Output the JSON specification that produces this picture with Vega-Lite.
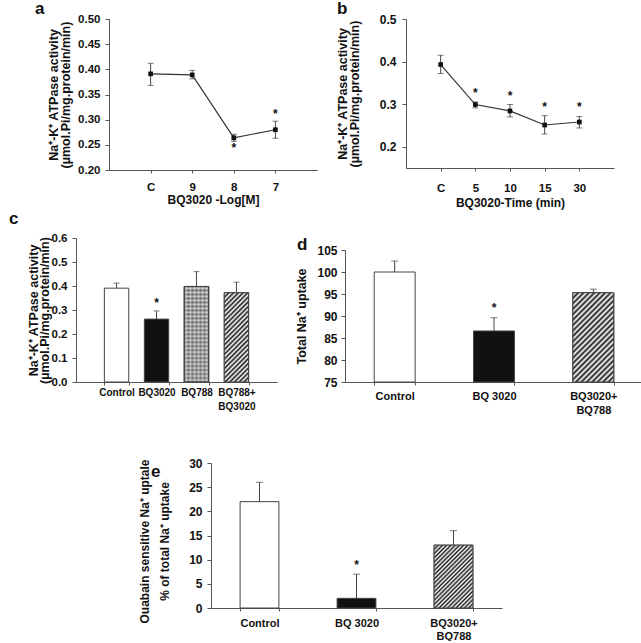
{
  "$schema": "https://vega.github.io/schema/vega-lite/v6.json",
  "padding": 0,
  "autosize": {"type": "pad"},
  "bounds": "flush",
  "spacing": 0,
  "config": {
    "view": {"stroke": null},
    "font": "Liberation Sans",
    "axis": {"grid": false, "labelOverlap": false, "labelFont": "Liberation Sans", "labelFontSize": 11, "labelFontWeight": "bold", "labelColor": "#111", "titleFont": "Liberation Sans", "titleFontSize": 12, "titleFontWeight": "bold", "titleColor": "#111", "domainColor": "#555", "tickColor": "#555", "tickSize": 3},
    "title": {"font": "Liberation Sans", "fontSize": 17, "fontWeight": "bold", "anchor": "start", "frame": "group", "color": "#111"}
  },
  "vconcat": [
    {"width": 1, "height": 16, "data": {"values": [{"s": 0}]}, "mark": {"type": "point", "opacity": 0}},
    {
      "spacing": 0, "bounds": "flush",
      "hconcat": [
        {"width": 106, "height": 1, "data": {"values": [{"s": 0}]}, "mark": {"type": "point", "opacity": 0}},
        {
          "title": {"text": "a", "dx": -74, "dy": 9},
          "width": 208, "height": 151,
          "data": {"values": [
            {"dose": "C", "v": 0.391, "lo": 0.368, "hi": 0.412, "star": "none"},
            {"dose": "9", "v": 0.389, "lo": 0.381, "hi": 0.398, "star": "none"},
            {"dose": "8", "v": 0.264, "lo": 0.257, "hi": 0.271, "star": "below"},
            {"dose": "7", "v": 0.280, "lo": 0.263, "hi": 0.297, "star": "above"}
          ]},
          "encoding": {"x": {"field": "dose", "type": "ordinal", "sort": null, "scale": {"type": "point", "padding": 1}, "axis": {"title": "BQ3020 -Log[M]", "labelAngle": 0, "labelFontSize": 11.5, "labelPadding": 8, "titlePadding": 2}}},
          "layer": [
            {"mark": {"type": "line", "color": "#333", "strokeWidth": 1.2}, "encoding": {"y": {"field": "v", "type": "quantitative", "scale": {"domain": [0.2, 0.5], "nice": false, "zero": false}, "axis": {"title": ["Na⁺-K⁺ ATPase activity", "(µmol.Pi/mg.protein/min)"], "tickCount": 7, "values": [0.2, 0.25, 0.3, 0.35, 0.4, 0.45, 0.5], "labelOverlap": false, "format": ".2f", "labelFontSize": 11.5, "titleFontSize": 12.5, "tickSize": 4, "labelPadding": 5, "titlePadding": 5, "titleLineHeight": 12}}}},
            {"mark": {"type": "rule", "color": "#444", "strokeWidth": 1}, "encoding": {"y": {"field": "lo", "type": "quantitative"}, "y2": {"field": "hi"}}},
            {"mark": {"type": "tick", "color": "#444", "size": 6, "thickness": 1}, "encoding": {"y": {"field": "hi", "type": "quantitative"}}},
            {"mark": {"type": "tick", "color": "#444", "size": 6, "thickness": 1}, "encoding": {"y": {"field": "lo", "type": "quantitative"}}},
            {"mark": {"type": "point", "shape": "square", "filled": true, "size": 22, "color": "#111", "opacity": 1}, "encoding": {"y": {"field": "v", "type": "quantitative"}}},
            {"transform": [{"filter": "datum.star == 'above'"}], "mark": {"type": "text", "text": "*", "dy": -7, "fontSize": 12, "fontWeight": "bold", "baseline": "middle", "color": "#111"}, "encoding": {"y": {"field": "hi", "type": "quantitative"}}},
            {"transform": [{"filter": "datum.star == 'below'"}], "mark": {"type": "text", "text": "*", "dy": 7, "fontSize": 12, "fontWeight": "bold", "baseline": "middle", "color": "#111"}, "encoding": {"y": {"field": "lo", "type": "quantitative"}}}
          ]
        },
        {"width": 89, "height": 1, "data": {"values": [{"s": 0}]}, "mark": {"type": "point", "opacity": 0}},
        {
          "title": {"text": "b", "dx": -69, "dy": 9},
          "width": 208, "height": 149,
          "data": {"values": [
            {"time": "C", "v": 0.393, "lo": 0.372, "hi": 0.415, "star": "none"},
            {"time": "5", "v": 0.299, "lo": 0.291, "hi": 0.305, "star": "above"},
            {"time": "10", "v": 0.284, "lo": 0.270, "hi": 0.299, "star": "above"},
            {"time": "15", "v": 0.251, "lo": 0.230, "hi": 0.273, "star": "above"},
            {"time": "30", "v": 0.258, "lo": 0.244, "hi": 0.271, "star": "above"}
          ]},
          "encoding": {"x": {"field": "time", "type": "ordinal", "sort": null, "scale": {"type": "point", "padding": 1}, "axis": {"title": "BQ3020-Time (min)", "labelAngle": 0, "labelFontSize": 11.5, "labelPadding": 11, "titlePadding": 4}}},
          "layer": [
            {"mark": {"type": "line", "color": "#333", "strokeWidth": 1.2}, "encoding": {"y": {"field": "v", "type": "quantitative", "scale": {"domain": [0.15, 0.5], "nice": false, "zero": false}, "axis": {"title": ["Na⁺-K⁺ ATPase activity", "(µmol.Pi/mg.protein/min)"], "tickCount": 4, "values": [0.2, 0.3, 0.4, 0.5], "labelOverlap": false, "format": ".1f", "labelFontSize": 12, "titleFontSize": 12.5, "tickSize": 4, "labelPadding": 6, "titlePadding": 18, "titleLineHeight": 12}}}},
            {"mark": {"type": "rule", "color": "#444", "strokeWidth": 1}, "encoding": {"y": {"field": "lo", "type": "quantitative"}, "y2": {"field": "hi"}}},
            {"mark": {"type": "tick", "color": "#444", "size": 6, "thickness": 1}, "encoding": {"y": {"field": "hi", "type": "quantitative"}}},
            {"mark": {"type": "tick", "color": "#444", "size": 6, "thickness": 1}, "encoding": {"y": {"field": "lo", "type": "quantitative"}}},
            {"mark": {"type": "point", "shape": "square", "filled": true, "size": 22, "color": "#111", "opacity": 1}, "encoding": {"y": {"field": "v", "type": "quantitative"}}},
            {"transform": [{"filter": "datum.star == 'above'"}], "mark": {"type": "text", "text": "*", "dy": -9, "fontSize": 12, "fontWeight": "bold", "baseline": "middle", "color": "#111"}, "encoding": {"y": {"field": "hi", "type": "quantitative"}}}
          ]
        }
      ]
    },
    {"width": 1, "height": 219, "data": {"values": [{"s": 0}]}, "mark": {"type": "point", "opacity": 0}},
    {
      "spacing": 0, "bounds": "flush",
      "hconcat": [
        {"width": 73, "height": 1, "data": {"values": [{"s": 0}]}, "mark": {"type": "point", "opacity": 0}},
        {
          "title": {"text": "c", "dx": -67, "dy": 0},
          "width": 201, "height": 144,
          "data": {"values": [
            {"g": "Control", "kind": "Control", "v": 0.391, "hi": 0.412, "star": "none"},
            {"g": "BQ3020", "kind": "BQ3020", "v": 0.262, "hi": 0.296, "star": "above"},
            {"g": "BQ788", "kind": "BQ788", "v": 0.398, "hi": 0.460, "star": "none"},
            {"g": "BQ788+BQ3020", "kind": "Combination", "v": 0.372, "hi": 0.416, "star": "none"}
          ]},
          "encoding": {"x": {"field": "g", "type": "nominal", "sort": null, "scale": {"paddingInner": 0.39, "paddingOuter": 0.71}, "axis": {"title": null, "labelAngle": 0, "labelFontSize": 10, "labelExpr": "split(replace(datum.label, '+', '+|'), '|')", "labelLineHeight": 14, "labelPadding": 2, "tickBand": "extent"}}},
          "layer": [
            {"mark": {"type": "rule", "color": "#444", "strokeWidth": 1}, "encoding": {"y": {"field": "v", "type": "quantitative", "scale": {"domain": [0, 0.6], "nice": false}, "axis": {"title": ["Na⁺-K⁺ ATPase activity", "(µmol.Pi/mg.protein/min)"], "tickCount": 7, "values": [0, 0.1, 0.2, 0.3, 0.4, 0.5, 0.6], "labelOverlap": false, "format": ".1f", "labelFontSize": 11.5, "titleFontSize": 12.5, "tickSize": 4, "labelPadding": 5, "titlePadding": 0, "titleLineHeight": 11}}, "y2": {"field": "hi"}}},
            {"mark": {"type": "bar", "stroke": "#444", "strokeWidth": 1}, "encoding": {"y": {"field": "v", "type": "quantitative"}, "fill": {"field": "kind", "type": "nominal", "scale": {"domain": ["Control", "BQ3020", "BQ788", "Combination"], "range": ["#ffffff", "#111111", "#9a9a9a", "#8f8f8f"]}, "legend": null}}},
            {"transform": [{"filter": "datum.kind == 'BQ788'"}], "mark": {"type": "bar", "stroke": "#444", "strokeWidth": 1, "fill": {"gradient": "linear", "x1": 0, "y1": 0, "x2": 0, "y2": 1, "stops": [
              {"offset": 0, "color": "#5a5a5a"}, {"offset": 0.0208, "color": "#b4b4b4"}, {"offset": 0.0417, "color": "#5a5a5a"}, {"offset": 0.0625, "color": "#b4b4b4"}, {"offset": 0.0833, "color": "#5a5a5a"}, {"offset": 0.1042, "color": "#b4b4b4"}, {"offset": 0.125, "color": "#5a5a5a"}, {"offset": 0.1458, "color": "#b4b4b4"}, {"offset": 0.1667, "color": "#5a5a5a"}, {"offset": 0.1875, "color": "#b4b4b4"}, {"offset": 0.2083, "color": "#5a5a5a"}, {"offset": 0.2292, "color": "#b4b4b4"}, {"offset": 0.25, "color": "#5a5a5a"}, {"offset": 0.2708, "color": "#b4b4b4"}, {"offset": 0.2917, "color": "#5a5a5a"}, {"offset": 0.3125, "color": "#b4b4b4"}, {"offset": 0.3333, "color": "#5a5a5a"}, {"offset": 0.3542, "color": "#b4b4b4"}, {"offset": 0.375, "color": "#5a5a5a"}, {"offset": 0.3958, "color": "#b4b4b4"}, {"offset": 0.4167, "color": "#5a5a5a"}, {"offset": 0.4375, "color": "#b4b4b4"}, {"offset": 0.4583, "color": "#5a5a5a"}, {"offset": 0.4792, "color": "#b4b4b4"}, {"offset": 0.5, "color": "#5a5a5a"}, {"offset": 0.5208, "color": "#b4b4b4"}, {"offset": 0.5417, "color": "#5a5a5a"}, {"offset": 0.5625, "color": "#b4b4b4"}, {"offset": 0.5833, "color": "#5a5a5a"}, {"offset": 0.6042, "color": "#b4b4b4"}, {"offset": 0.625, "color": "#5a5a5a"}, {"offset": 0.6458, "color": "#b4b4b4"}, {"offset": 0.6667, "color": "#5a5a5a"}, {"offset": 0.6875, "color": "#b4b4b4"}, {"offset": 0.7083, "color": "#5a5a5a"}, {"offset": 0.7292, "color": "#b4b4b4"}, {"offset": 0.75, "color": "#5a5a5a"}, {"offset": 0.7708, "color": "#b4b4b4"}, {"offset": 0.7917, "color": "#5a5a5a"}, {"offset": 0.8125, "color": "#b4b4b4"}, {"offset": 0.8333, "color": "#5a5a5a"}, {"offset": 0.8542, "color": "#b4b4b4"}, {"offset": 0.875, "color": "#5a5a5a"}, {"offset": 0.8958, "color": "#b4b4b4"}, {"offset": 0.9167, "color": "#5a5a5a"}, {"offset": 0.9375, "color": "#b4b4b4"}, {"offset": 0.9583, "color": "#5a5a5a"}, {"offset": 0.9792, "color": "#b4b4b4"}, {"offset": 1, "color": "#5a5a5a"}
            ]}}, "encoding": {"y": {"field": "v", "type": "quantitative"}}},
            {"transform": [{"filter": "datum.kind == 'BQ788'"}], "mark": {"type": "bar", "stroke": "#444", "strokeWidth": 1, "fill": {"gradient": "linear", "x1": 0, "y1": 0, "x2": 1, "y2": 0, "stops": [
              {"offset": 0, "color": "rgba(255,255,255,0)"}, {"offset": 0.0833, "color": "rgba(255,255,255,0.4)"}, {"offset": 0.1667, "color": "rgba(255,255,255,0)"}, {"offset": 0.25, "color": "rgba(255,255,255,0.4)"}, {"offset": 0.3333, "color": "rgba(255,255,255,0)"}, {"offset": 0.4167, "color": "rgba(255,255,255,0.4)"}, {"offset": 0.5, "color": "rgba(255,255,255,0)"}, {"offset": 0.5833, "color": "rgba(255,255,255,0.4)"}, {"offset": 0.6667, "color": "rgba(255,255,255,0)"}, {"offset": 0.75, "color": "rgba(255,255,255,0.4)"}, {"offset": 0.8333, "color": "rgba(255,255,255,0)"}, {"offset": 0.9167, "color": "rgba(255,255,255,0.4)"}, {"offset": 1, "color": "rgba(255,255,255,0)"}
            ]}}, "encoding": {"y": {"field": "v", "type": "quantitative"}}},
            {"transform": [{"filter": "datum.kind == 'Combination'"}], "mark": {"type": "bar", "stroke": "#444", "strokeWidth": 1, "fill": {"gradient": "linear", "x1": 0, "y1": 0, "x2": 0.326, "y2": 1.186, "stops": [
              {"offset": 0, "color": "#1a1a1a"}, {"offset": 0.0208, "color": "#ffffff"}, {"offset": 0.0417, "color": "#1a1a1a"}, {"offset": 0.0625, "color": "#ffffff"}, {"offset": 0.0833, "color": "#1a1a1a"}, {"offset": 0.1042, "color": "#ffffff"}, {"offset": 0.125, "color": "#1a1a1a"}, {"offset": 0.1458, "color": "#ffffff"}, {"offset": 0.1667, "color": "#1a1a1a"}, {"offset": 0.1875, "color": "#ffffff"}, {"offset": 0.2083, "color": "#1a1a1a"}, {"offset": 0.2292, "color": "#ffffff"}, {"offset": 0.25, "color": "#1a1a1a"}, {"offset": 0.2708, "color": "#ffffff"}, {"offset": 0.2917, "color": "#1a1a1a"}, {"offset": 0.3125, "color": "#ffffff"}, {"offset": 0.3333, "color": "#1a1a1a"}, {"offset": 0.3542, "color": "#ffffff"}, {"offset": 0.375, "color": "#1a1a1a"}, {"offset": 0.3958, "color": "#ffffff"}, {"offset": 0.4167, "color": "#1a1a1a"}, {"offset": 0.4375, "color": "#ffffff"}, {"offset": 0.4583, "color": "#1a1a1a"}, {"offset": 0.4792, "color": "#ffffff"}, {"offset": 0.5, "color": "#1a1a1a"}, {"offset": 0.5208, "color": "#ffffff"}, {"offset": 0.5417, "color": "#1a1a1a"}, {"offset": 0.5625, "color": "#ffffff"}, {"offset": 0.5833, "color": "#1a1a1a"}, {"offset": 0.6042, "color": "#ffffff"}, {"offset": 0.625, "color": "#1a1a1a"}, {"offset": 0.6458, "color": "#ffffff"}, {"offset": 0.6667, "color": "#1a1a1a"}, {"offset": 0.6875, "color": "#ffffff"}, {"offset": 0.7083, "color": "#1a1a1a"}, {"offset": 0.7292, "color": "#ffffff"}, {"offset": 0.75, "color": "#1a1a1a"}, {"offset": 0.7708, "color": "#ffffff"}, {"offset": 0.7917, "color": "#1a1a1a"}, {"offset": 0.8125, "color": "#ffffff"}, {"offset": 0.8333, "color": "#1a1a1a"}, {"offset": 0.8542, "color": "#ffffff"}, {"offset": 0.875, "color": "#1a1a1a"}, {"offset": 0.8958, "color": "#ffffff"}, {"offset": 0.9167, "color": "#1a1a1a"}, {"offset": 0.9375, "color": "#ffffff"}, {"offset": 0.9583, "color": "#1a1a1a"}, {"offset": 0.9792, "color": "#ffffff"}, {"offset": 1, "color": "#1a1a1a"}
            ]}}, "encoding": {"y": {"field": "v", "type": "quantitative"}}},
            {"mark": {"type": "tick", "color": "#444", "size": 6, "thickness": 1}, "encoding": {"y": {"field": "hi", "type": "quantitative"}}},
            {"transform": [{"filter": "datum.star == 'above'"}], "mark": {"type": "text", "text": "*", "dy": -8, "fontSize": 12, "fontWeight": "bold", "baseline": "middle", "color": "#111"}, "encoding": {"y": {"field": "hi", "type": "quantitative"}}}
          ]
        },
        {"width": 68, "height": 1, "data": {"values": [{"s": 0}]}, "mark": {"type": "point", "opacity": 0}},
        {
          "spacing": 0, "bounds": "flush",
          "vconcat": [
            {"width": 1, "height": 12, "data": {"values": [{"s": 0}]}, "mark": {"type": "point", "opacity": 0}},
            {
              "title": {"text": "d", "dx": -48, "dy": 14},
              "width": 298, "height": 132,
              "data": {"values": [
                {"g": "Control", "kind": "Control", "v": 100.0, "hi": 102.5, "star": "none"},
                {"g": "BQ 3020", "kind": "BQ3020", "v": 86.6, "hi": 89.6, "star": "above"},
                {"g": "BQ3020+BQ788", "kind": "Combination", "v": 95.3, "hi": 96.1, "star": "none"}
              ]},
              "encoding": {"x": {"field": "g", "type": "nominal", "sort": null, "scale": {"paddingInner": 0.588, "paddingOuter": 0.294}, "axis": {"title": null, "labelAngle": 0, "labelExpr": "split(replace(datum.label, '+', '+|'), '|')", "labelLineHeight": 14, "labelPadding": 5, "tickBand": "extent"}}},
              "layer": [
                {"mark": {"type": "rule", "color": "#444", "strokeWidth": 1}, "encoding": {"y": {"field": "v", "type": "quantitative", "scale": {"domain": [75, 105], "nice": false, "zero": false}, "axis": {"title": "Total  Na⁺ uptake", "tickCount": 7, "values": [75, 80, 85, 90, 95, 100, 105], "labelOverlap": false, "labelFontSize": 12, "titleFontSize": 12.5, "tickSize": 4, "labelPadding": 4, "titlePadding": 8}}, "y2": {"field": "hi"}}},
                {"mark": {"type": "bar", "stroke": "#444", "strokeWidth": 1}, "encoding": {"y": {"field": "v", "type": "quantitative"}, "y2": {"datum": 75}, "fill": {"field": "kind", "type": "nominal", "scale": {"domain": ["Control", "BQ3020", "BQ788", "Combination"], "range": ["#ffffff", "#111111", "#9a9a9a", "#8f8f8f"]}, "legend": null}}},
                {"transform": [{"filter": "datum.kind == 'Combination'"}], "mark": {"type": "bar", "stroke": "#444", "strokeWidth": 1, "fill": {"gradient": "linear", "x1": 0, "y1": 0, "x2": 0.555, "y2": 1.205, "stops": [
                  {"offset": 0, "color": "#1a1a1a"}, {"offset": 0.0208, "color": "#ffffff"}, {"offset": 0.0417, "color": "#1a1a1a"}, {"offset": 0.0625, "color": "#ffffff"}, {"offset": 0.0833, "color": "#1a1a1a"}, {"offset": 0.1042, "color": "#ffffff"}, {"offset": 0.125, "color": "#1a1a1a"}, {"offset": 0.1458, "color": "#ffffff"}, {"offset": 0.1667, "color": "#1a1a1a"}, {"offset": 0.1875, "color": "#ffffff"}, {"offset": 0.2083, "color": "#1a1a1a"}, {"offset": 0.2292, "color": "#ffffff"}, {"offset": 0.25, "color": "#1a1a1a"}, {"offset": 0.2708, "color": "#ffffff"}, {"offset": 0.2917, "color": "#1a1a1a"}, {"offset": 0.3125, "color": "#ffffff"}, {"offset": 0.3333, "color": "#1a1a1a"}, {"offset": 0.3542, "color": "#ffffff"}, {"offset": 0.375, "color": "#1a1a1a"}, {"offset": 0.3958, "color": "#ffffff"}, {"offset": 0.4167, "color": "#1a1a1a"}, {"offset": 0.4375, "color": "#ffffff"}, {"offset": 0.4583, "color": "#1a1a1a"}, {"offset": 0.4792, "color": "#ffffff"}, {"offset": 0.5, "color": "#1a1a1a"}, {"offset": 0.5208, "color": "#ffffff"}, {"offset": 0.5417, "color": "#1a1a1a"}, {"offset": 0.5625, "color": "#ffffff"}, {"offset": 0.5833, "color": "#1a1a1a"}, {"offset": 0.6042, "color": "#ffffff"}, {"offset": 0.625, "color": "#1a1a1a"}, {"offset": 0.6458, "color": "#ffffff"}, {"offset": 0.6667, "color": "#1a1a1a"}, {"offset": 0.6875, "color": "#ffffff"}, {"offset": 0.7083, "color": "#1a1a1a"}, {"offset": 0.7292, "color": "#ffffff"}, {"offset": 0.75, "color": "#1a1a1a"}, {"offset": 0.7708, "color": "#ffffff"}, {"offset": 0.7917, "color": "#1a1a1a"}, {"offset": 0.8125, "color": "#ffffff"}, {"offset": 0.8333, "color": "#1a1a1a"}, {"offset": 0.8542, "color": "#ffffff"}, {"offset": 0.875, "color": "#1a1a1a"}, {"offset": 0.8958, "color": "#ffffff"}, {"offset": 0.9167, "color": "#1a1a1a"}, {"offset": 0.9375, "color": "#ffffff"}, {"offset": 0.9583, "color": "#1a1a1a"}, {"offset": 0.9792, "color": "#ffffff"}, {"offset": 1, "color": "#1a1a1a"}
                ]}}, "encoding": {"y": {"field": "v", "type": "quantitative"}, "y2": {"datum": 75}}},
                {"mark": {"type": "tick", "color": "#444", "size": 7, "thickness": 1}, "encoding": {"y": {"field": "hi", "type": "quantitative"}}},
                {"transform": [{"filter": "datum.star == 'above'"}], "mark": {"type": "text", "text": "*", "dy": -10, "fontSize": 12, "fontWeight": "bold", "baseline": "middle", "color": "#111"}, "encoding": {"y": {"field": "hi", "type": "quantitative"}}}
              ]
            }
          ]
        }
      ]
    },
    {"width": 1, "height": 225, "data": {"values": [{"s": 0}]}, "mark": {"type": "point", "opacity": 0}},
    {
      "spacing": 0, "bounds": "flush",
      "hconcat": [
        {"width": 208, "height": 1, "data": {"values": [{"s": 0}]}, "mark": {"type": "point", "opacity": 0}},
        {
          "title": {"text": "e", "dx": -60, "dy": 28},
          "width": 291, "height": 145,
          "data": {"values": [
            {"g": "Control", "kind": "Control", "v": 22, "hi": 26, "star": "none"},
            {"g": "BQ 3020", "kind": "BQ3020", "v": 2, "hi": 7, "star": "above"},
            {"g": "BQ3020+BQ788", "kind": "Combination", "v": 13, "hi": 16, "star": "none"}
          ]},
          "encoding": {"x": {"field": "g", "type": "nominal", "sort": null, "scale": {"paddingInner": 0.6, "paddingOuter": 0.3}, "axis": {"title": null, "labelAngle": 0, "labelExpr": "split(replace(datum.label, '+', '+|'), '|')", "labelLineHeight": 13, "labelPadding": 6, "tickBand": "extent"}}},
          "layer": [
            {"mark": {"type": "rule", "color": "#444", "strokeWidth": 1}, "encoding": {"y": {"field": "v", "type": "quantitative", "scale": {"domain": [0, 30], "nice": false}, "axis": {"title": ["Ouabain sensitive Na⁺ uptale", "% of  total Na⁺ uptake"], "tickCount": 7, "values": [0, 5, 10, 15, 20, 25, 30], "labelOverlap": false, "labelFontSize": 12, "tickSize": 4, "labelPadding": 5, "titlePadding": 17, "titleLineHeight": 20, "titleY": 78}}, "y2": {"field": "hi"}}},
            {"mark": {"type": "bar", "stroke": "#444", "strokeWidth": 1}, "encoding": {"y": {"field": "v", "type": "quantitative"}, "fill": {"field": "kind", "type": "nominal", "scale": {"domain": ["Control", "BQ3020", "BQ788", "Combination"], "range": ["#ffffff", "#111111", "#9a9a9a", "#8f8f8f"]}, "legend": null}}},
            {"transform": [{"filter": "datum.kind == 'Combination'"}], "mark": {"type": "bar", "stroke": "#444", "strokeWidth": 1, "fill": {"gradient": "linear", "x1": 0, "y1": 0, "x2": 0.724, "y2": 1.171, "stops": [
              {"offset": 0, "color": "#1a1a1a"}, {"offset": 0.0208, "color": "#ffffff"}, {"offset": 0.0417, "color": "#1a1a1a"}, {"offset": 0.0625, "color": "#ffffff"}, {"offset": 0.0833, "color": "#1a1a1a"}, {"offset": 0.1042, "color": "#ffffff"}, {"offset": 0.125, "color": "#1a1a1a"}, {"offset": 0.1458, "color": "#ffffff"}, {"offset": 0.1667, "color": "#1a1a1a"}, {"offset": 0.1875, "color": "#ffffff"}, {"offset": 0.2083, "color": "#1a1a1a"}, {"offset": 0.2292, "color": "#ffffff"}, {"offset": 0.25, "color": "#1a1a1a"}, {"offset": 0.2708, "color": "#ffffff"}, {"offset": 0.2917, "color": "#1a1a1a"}, {"offset": 0.3125, "color": "#ffffff"}, {"offset": 0.3333, "color": "#1a1a1a"}, {"offset": 0.3542, "color": "#ffffff"}, {"offset": 0.375, "color": "#1a1a1a"}, {"offset": 0.3958, "color": "#ffffff"}, {"offset": 0.4167, "color": "#1a1a1a"}, {"offset": 0.4375, "color": "#ffffff"}, {"offset": 0.4583, "color": "#1a1a1a"}, {"offset": 0.4792, "color": "#ffffff"}, {"offset": 0.5, "color": "#1a1a1a"}, {"offset": 0.5208, "color": "#ffffff"}, {"offset": 0.5417, "color": "#1a1a1a"}, {"offset": 0.5625, "color": "#ffffff"}, {"offset": 0.5833, "color": "#1a1a1a"}, {"offset": 0.6042, "color": "#ffffff"}, {"offset": 0.625, "color": "#1a1a1a"}, {"offset": 0.6458, "color": "#ffffff"}, {"offset": 0.6667, "color": "#1a1a1a"}, {"offset": 0.6875, "color": "#ffffff"}, {"offset": 0.7083, "color": "#1a1a1a"}, {"offset": 0.7292, "color": "#ffffff"}, {"offset": 0.75, "color": "#1a1a1a"}, {"offset": 0.7708, "color": "#ffffff"}, {"offset": 0.7917, "color": "#1a1a1a"}, {"offset": 0.8125, "color": "#ffffff"}, {"offset": 0.8333, "color": "#1a1a1a"}, {"offset": 0.8542, "color": "#ffffff"}, {"offset": 0.875, "color": "#1a1a1a"}, {"offset": 0.8958, "color": "#ffffff"}, {"offset": 0.9167, "color": "#1a1a1a"}, {"offset": 0.9375, "color": "#ffffff"}, {"offset": 0.9583, "color": "#1a1a1a"}, {"offset": 0.9792, "color": "#ffffff"}, {"offset": 1, "color": "#1a1a1a"}
            ]}}, "encoding": {"y": {"field": "v", "type": "quantitative"}}},
            {"mark": {"type": "tick", "color": "#444", "size": 7, "thickness": 1}, "encoding": {"y": {"field": "hi", "type": "quantitative"}}},
            {"transform": [{"filter": "datum.star == 'above'"}], "mark": {"type": "text", "text": "*", "dy": -9, "fontSize": 12, "fontWeight": "bold", "baseline": "middle", "color": "#111"}, "encoding": {"y": {"field": "hi", "type": "quantitative"}}}
          ]
        }
      ]
    }
  ]
}
